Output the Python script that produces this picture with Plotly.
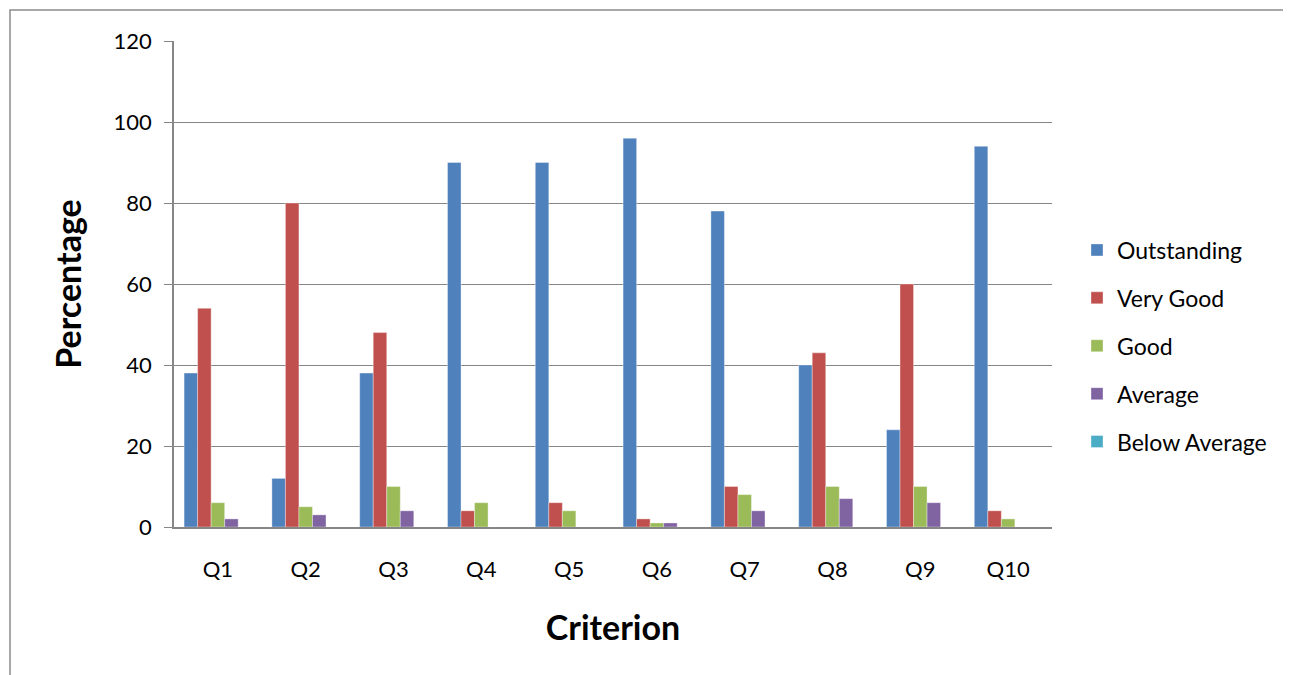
import plotly.graph_objects as go

categories = ["Q1", "Q2", "Q3", "Q4", "Q5", "Q6", "Q7", "Q8", "Q9", "Q10"]
outstanding = [38, 12, 38, 90, 90, 96, 78, 40, 24, 94]
very_good = [54, 80, 48, 4, 6, 2, 10, 43, 60, 4]
good = [6, 5, 10, 6, 4, 1, 8, 10, 10, 2]
average = [2, 3, 4, 0, 0, 1, 4, 7, 6, 0]
below_average = [0, 0, 0, 0, 0, 0, 0, 0, 0, 0]
series_names = ["Outstanding", "Very Good", "Good", "Average", "Below Average"]
colors = ["#4F81BD", "#C0504D", "#9BBB59", "#8064A2", "#4BACC6"]
y_ticks = [0, 20, 40, 60, 80, 100, 120]

OFF = 8  # page body margin
W, H = 1291 - OFF, 675 - OFF
L, R, T, B = 174 - OFF, 1052 - OFF, 41 - OFF, 527 - OFF

fig = go.Figure()
for name, vals, col in zip(series_names, [outstanding, very_good, good, average, below_average], colors):
    fig.add_trace(go.Bar(
        x=categories, y=vals, name=name, legendgroup=name,
        marker=dict(color=col, line=dict(width=1, color="rgba(255,255,255,0.35)")),
        hoverinfo="skip",
    ))

font = "Lato, Carlito, Calibri, sans-serif"

def px_to_paper_x(px):
    return (px - OFF - L) / (R - L)

def px_to_paper_y(py):
    return (B - (py - OFF)) / (B - T)

fig.update_layout(
    width=W, height=H,
    margin=dict(l=L, r=W - R, t=T, b=H - B, autoexpand=False),
    paper_bgcolor="white", plot_bgcolor="white",
    barmode="group", bargap=0.23, bargroupgap=0,
    font=dict(family=font, color="black", size=22),
    showlegend=True,
    legend=dict(
        x=px_to_paper_x(1077), y=px_to_paper_y(346), xanchor="left", yanchor="middle",
        font=dict(size=23, family=font), itemwidth=30, tracegroupgap=15,
        bgcolor="rgba(0,0,0,0)",
    ),
    xaxis=dict(
        showgrid=False, showline=True, linecolor="#868686", linewidth=2,
        ticks="", tickfont=dict(size=22, family=font),
        ticklabelstandoff=22,
        title=dict(text="<b>Criterion</b>", font=dict(size=34, family=font), standoff=35),
        fixedrange=True,
    ),
    yaxis=dict(
        range=[0, 120], tickvals=y_ticks, showgrid=True, gridcolor="#868686", gridwidth=1.2,
        showline=True, linecolor="#868686", linewidth=1.5,
        ticks="outside", ticklen=8, tickcolor="#868686",
        tickfont=dict(size=22, family=font), ticklabelstandoff=8,
        title=dict(text="<b>Percentage</b>", font=dict(size=34, family=font), standoff=22),
        zeroline=False, fixedrange=True,
    ),
    shapes=[dict(
        type="rect", xref="paper", yref="paper",
        x0=px_to_paper_x(10), x1=px_to_paper_x(1330),
        y0=px_to_paper_y(720), y1=px_to_paper_y(10),
        line=dict(color="#8C8C8C", width=1.5), fillcolor="rgba(0,0,0,0)", layer="below",
    )],
)

fig.write_html("out.html")
